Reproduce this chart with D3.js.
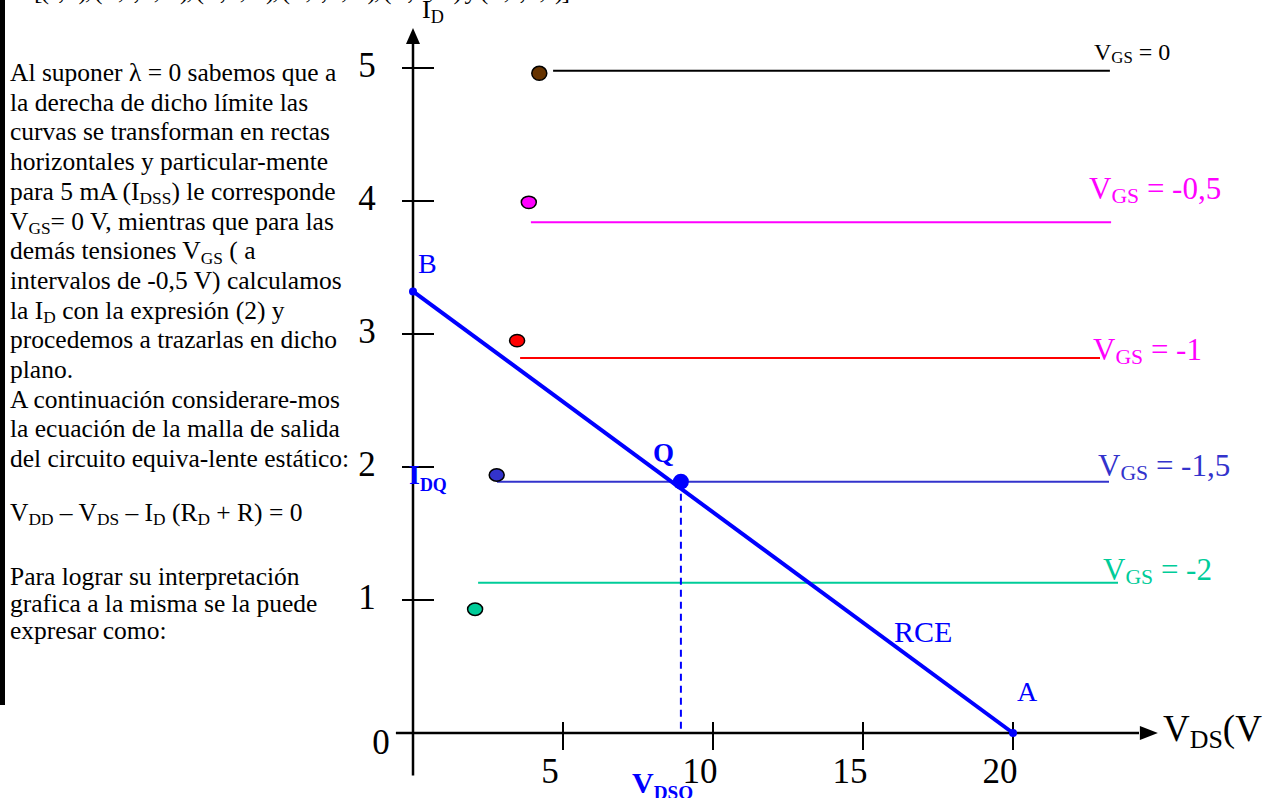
<!DOCTYPE html>
<html><head><meta charset="utf-8">
<script src="https://cdn.jsdelivr.net/npm/d3@7"></script>
<style>
html,body{margin:0;padding:0;background:#fff;overflow:hidden}
svg text{font-family:"Liberation Serif","Times New Roman",serif;white-space:pre}
</style></head>
<body><svg id="c" width="1269" height="798"></svg>
<script>
// ---- data ----
const seriesNames = ["0", "-0,5", "-1", "-1,5", "-2"];
const seriesColors = ["#000000", "#ff00ff", "#ff0000", "#3333cc", "#00cc99"];
const labelColors = ["#000000", "#ff00ff", "#ff00ff", "#3333cc", "#00cc99"];
const dotColors = ["#663300", "#ff00ff", "#ff0000", "#3333cc", "#00cc99"];
const lineLevels = [4.98, 3.84, 2.82, 1.89, 1.13];     // I_D (mA) of horizontal lines
const lineStarts = [4.67, 3.93, 3.57, 2.80, 2.17];     // V_DS start
const lineEnds = [23.23, 23.27, 22.9, 23.2, 23.5];     // V_DS end
const dotX = [4.21, 3.86, 3.47, 2.79, 2.07];          // limit points V_DS
const dotY = [4.96, 3.99, 2.95, 1.94, 0.93];          // limit points I_D
const loadLineX = [0, 20];                            // B -> A
const loadLineY = [3.32, 0];
const qPoint = [8.93, 1.89];
const xTicks = [5, 10, 15, 20];
const yTicks = [1, 2, 3, 4, 5];
const xTickLabels = ["5", "10", "15", "20"];
const yTickLabels = ["1", "2", "3", "4", "5"];
const leftText = [
 "Al suponer λ = 0 sabemos que a",
 "la derecha de dicho límite las",
 "curvas se transforman en rectas",
 "horizontales y particular-mente",
 "para 5 mA (I_{DSS}) le corresponde",
 "V_{GS}= 0 V, mientras que para las",
 "demás tensiones V_{GS} ( a",
 "intervalos de -0,5 V) calculamos",
 "la I_{D} con la expresión (2) y",
 "procedemos a trazarlas en dicho",
 "plano.",
 "A continuación considerare-mos",
 "la ecuación de la malla de salida",
 "del circuito equiva-lente estático:"
];
const equationText = "V_{DD} – V_{DS} – I_{D} (R_{D} + R) = 0";
const lowerText = ["Para lograr su interpretación", "grafica a la misma se la puede", "expresar como:"];
const topClipText = "[(0; 5), (-0,5; 3,84), (-1; 2,82), (-1,5; 1,89), (-2; 1,13) y (-2,5; 0,6)]";

// ---- scales ----
const x = d3.scaleLinear().domain([0, 20]).range([413, 1013]);
const y = d3.scaleLinear().domain([0, 5]).range([733, 68]);
const svg = d3.select("#c");

function parse(s){
  const parts=[]; const re=/_\{([^}]*)\}/g; let last=0,m;
  while((m=re.exec(s))){ if(m.index>last) parts.push({t:s.slice(last,m.index)}); parts.push({t:m[1],sub:true}); last=re.lastIndex; }
  if(last<s.length) parts.push({t:s.slice(last)});
  return parts;
}
function rich(sel, px, py, str, size, fill, opts={}){
  const t = sel.append("text").attr("x",px).attr("y",py).attr("font-size",size).attr("fill",fill);
  if(opts.weight) t.attr("font-weight",opts.weight);
  if(opts.anchor) t.attr("text-anchor",opts.anchor);
  const subSize = size*(opts.subScale||0.68), subShift = size*(opts.subShift||0.17);
  let shift=0;
  parse(str).forEach(p=>{
    const target = p.sub? subShift : 0;
    const ts = t.append("tspan").attr("dy", target-shift).text(p.t);
    if(p.sub) ts.attr("font-size", subSize);
    shift = target;
  });
  return t;
}

// left black bar and clipped top line
svg.append("rect").attr("x",0).attr("y",0).attr("width",5).attr("height",705).attr("fill","#000");
svg.append("text").attr("x",34).attr("y",-1).attr("font-size",25.5).attr("textLength",536).attr("lengthAdjust","spacing").text(topClipText);

// left paragraph
const tg = svg.append("g");
leftText.forEach((s,i)=> rich(tg, 10, 81 + i*29.7, s, 25.5, "#000"));
rich(tg, 10, 521, equationText, 25.5, "#000");
lowerText.forEach((s,i)=> rich(tg, 10, 585 + i*27, s, 25.5, "#000"));

// axes
const ax = svg.append("g").attr("stroke","#000").attr("stroke-width",2.5);
ax.append("line").attr("x1",x(0)).attr("x2",x(0)).attr("y1",y(-0.32)).attr("y2",y(5.18));
ax.append("line").attr("x1",x(-0.57)).attr("x2",x(24.2)).attr("y1",y(0)).attr("y2",y(0));
svg.append("path").attr("fill","#000").attr("d",`M${x(0)},${y(5.3)} L${x(0)-7},${y(5.3)+16} L${x(0)+7},${y(5.3)+16} Z`);
svg.append("path").attr("fill","#000").attr("d",`M${x(24.83)},${y(0)} L${x(24.83)-18},${y(0)-7} L${x(24.83)-18},${y(0)+7} Z`);
// ticks
svg.append("g").selectAll("line").data(yTicks).join("line")
  .attr("x1",x(0)-11).attr("x2",x(0)+21).attr("y1",d=>y(d)).attr("y2",d=>y(d))
  .attr("stroke","#000").attr("stroke-width",2);
svg.append("g").selectAll("line").data(xTicks).join("line")
  .attr("x1",d=>x(d)).attr("x2",d=>x(d)).attr("y1",y(0)-11).attr("y2",y(0)+17)
  .attr("stroke","#000").attr("stroke-width",2);
svg.append("g").selectAll("text").data(yTicks).join("text")
  .attr("x",367).attr("y",d=>y(d)+9).attr("text-anchor","middle").attr("font-size",35)
  .text((d,i)=>yTickLabels[i]);
svg.append("g").selectAll("text").data(xTicks).join("text")
  .attr("x",d=>x(d)-13).attr("y",783).attr("text-anchor","middle").attr("font-size",35)
  .text((d,i)=>xTickLabels[i]);
svg.append("text").attr("x",381).attr("y",754).attr("text-anchor","middle").attr("font-size",35).text("0");
// axis titles
rich(svg, 422, 18, "I_{D}", 26, "#000", {subScale:0.7, subShift:0.2});
rich(svg, 1163, 741, "V_{DS}(V", 37, "#000", {subScale:0.7, subShift:0.2});

// VGS horizontal lines
svg.append("g").selectAll("line").data(lineLevels).join("line")
  .attr("x1",(d,i)=>x(lineStarts[i])).attr("x2",(d,i)=>x(lineEnds[i]))
  .attr("y1",d=>y(d)).attr("y2",d=>y(d))
  .attr("stroke",(d,i)=>seriesColors[i]).attr("stroke-width",2);
// limit dots
svg.append("g").selectAll("ellipse").data(dotX).join("ellipse")
  .attr("cx",d=>x(d)).attr("cy",(d,i)=>y(dotY[i]))
  .attr("rx",7.5).attr("ry",(d,i)=>i===0?7:6.2)
  .attr("fill",(d,i)=>dotColors[i]).attr("stroke","#000").attr("stroke-width",1.5);
// VGS labels
const lblX = [1094, 1089, 1093, 1098, 1103];
const lblY = [60, 199, 360, 476, 580];
const lblSize = [24, 31, 31, 31, 31];
seriesNames.forEach((n,i)=> rich(svg, lblX[i], lblY[i], `V_{GS} = ${n}`, lblSize[i], labelColors[i], {subScale:0.7, subShift:0.12}));

// load line
svg.append("line").attr("x1",x(loadLineX[0])).attr("y1",y(loadLineY[0])).attr("x2",x(loadLineX[1])).attr("y2",y(loadLineY[1]))
  .attr("stroke","#0000ff").attr("stroke-width",4);
svg.append("line").attr("x1",x(qPoint[0])).attr("x2",x(qPoint[0])).attr("y1",y(qPoint[1])).attr("y2",y(0))
  .attr("stroke","#0000ff").attr("stroke-width",2).attr("stroke-dasharray","7,5");
svg.append("circle").attr("cx",x(loadLineX[0])).attr("cy",y(loadLineY[0])).attr("r",4).attr("fill","#0000ff");
svg.append("circle").attr("cx",x(loadLineX[1])).attr("cy",y(loadLineY[1])).attr("r",4).attr("fill","#0000ff");
svg.append("circle").attr("cx",x(qPoint[0])).attr("cy",y(qPoint[1])).attr("r",8).attr("fill","#0000ff");
// annotations
svg.append("text").attr("x",418).attr("y",273).attr("font-size",28).attr("fill","#0000ff").text("B");
svg.append("text").attr("x",1017).attr("y",701).attr("font-size",28).attr("fill","#0000ff").text("A");
svg.append("text").attr("x",894).attr("y",642).attr("font-size",30).attr("fill","#0000ff").text("RCE");
svg.append("text").attr("x",653).attr("y",462).attr("font-size",27).attr("font-weight","bold").attr("fill","#0000ff").text("Q");
rich(svg, 409, 484, "I_{DQ}", 28, "#0000ff", {weight:"bold", subScale:0.64, subShift:0.25});
rich(svg, 632, 793, "V_{DSQ}", 30, "#0000ff", {weight:"bold", subScale:0.64, subShift:0.2});
</script></body></html>
